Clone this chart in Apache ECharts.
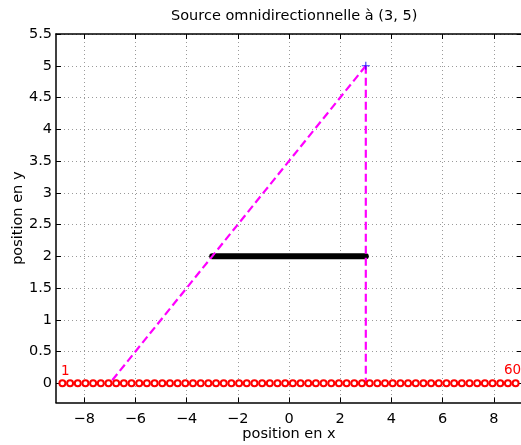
<!DOCTYPE html>
<html>
<head>
<meta charset="utf-8">
<script src="https://cdn.jsdelivr.net/npm/echarts@6/dist/echarts.min.js"></script>
<style>html,body{margin:0;padding:0;background:#fff;}#c{width:521px;height:445px;}</style>
</head>
<body>
<div id="c"></div>
<script>
var titleText = 'Source omnidirectionnelle à (3, 5)';
var xName = 'position en x';
var yName = 'position en y';
var xTicks = [-8, -6, -4, -2, 0, 2, 4, 6, 8];
var yTicks = [0, 0.5, 1, 1.5, 2, 2.5, 3, 3.5, 4, 4.5, 5, 5.5];
var xRange = [-9.1, 9.1];
var yRange = [-0.3, 5.5];
var sensorX = [-8.85,-8.55,-8.25,-7.95,-7.65,-7.35,-7.05,-6.75,-6.45,-6.15,
  -5.85,-5.55,-5.25,-4.95,-4.65,-4.35,-4.05,-3.75,-3.45,-3.15,
  -2.85,-2.55,-2.25,-1.95,-1.65,-1.35,-1.05,-0.75,-0.45,-0.15,
  0.15,0.45,0.75,1.05,1.35,1.65,1.95,2.25,2.55,2.85,
  3.15,3.45,3.75,4.05,4.35,4.65,4.95,5.25,5.55,5.85,
  6.15,6.45,6.75,7.05,7.35,7.65,7.95,8.25,8.55,8.85];
var sensorY = [0,0,0,0,0,0,0,0,0,0, 0,0,0,0,0,0,0,0,0,0, 0,0,0,0,0,0,0,0,0,0,
  0,0,0,0,0,0,0,0,0,0, 0,0,0,0,0,0,0,0,0,0, 0,0,0,0,0,0,0,0,0,0];
var sensorLabels = {0: '1', 59: '60'};
var obstacleX = [-3, 3];
var obstacleY = [2, 2];
var sourceX = [3];
var sourceY = [5];
var rayVertX = [3, 3];
var rayVertY = [5, 0];
var rayDiagX = [3, -7];
var rayDiagY = [5, 0];

var FONT = 'DejaVu Sans';
var FS = 14.5;
function zip(a, b) { return a.map(function (v, i) { return [v, b[i]]; }); }
function fmt(v) { return v < 0 ? '\u2212' + (-v) : String(v); }

var chart = echarts.init(document.getElementById('c'), null, {renderer: 'canvas'});
var gridSplit = {show: true, lineStyle: {color: '#9a9a9a', width: 1, type: [1, 3]}};
var axisLineBlack = {show: true, onZero: false, lineStyle: {color: '#000', width: 1.5}};

var sensorData = zip(sensorX, sensorY).map(function (p, i) {
  var d = {value: p};
  if (sensorLabels[i] !== undefined) {
    d.label = {show: true, formatter: sensorLabels[i], position: 'top',
      offset: i === 0 ? [3, 4] : [-3, 3],
      color: '#ff0000', fontSize: 13.5, fontFamily: FONT};
  }
  return d;
});

chart.setOption({
  animation: false,
  backgroundColor: '#fff',
  title: {text: titleText, left: 166, top: 4,
    textStyle: {fontFamily: FONT, fontSize: FS, fontWeight: 'normal', color: '#000'}},
  grid: {left: 56, right: -1, top: 34, bottom: 42.6, containLabel: false, outerBoundsMode: 'none'},
  xAxis: [{
    type: 'value', min: xRange[0], max: xRange[1], position: 'bottom',
    name: xName, nameLocation: 'middle', nameGap: 24, nameMoveOverlap: false,
    nameTextStyle: {fontFamily: FONT, fontSize: FS, color: '#000'},
    axisLine: axisLineBlack,
    axisTick: {show: true, inside: true, length: 5, customValues: xTicks, lineStyle: {color: '#000'}},
    axisLabel: {show: true, customValues: xTicks, formatter: fmt, margin: 9,
      fontFamily: FONT, fontSize: FS, color: '#000'},
    splitLine: gridSplit
  }, {
    type: 'value', min: xRange[0], max: xRange[1], position: 'top',
    axisLine: axisLineBlack,
    axisTick: {show: true, inside: true, length: 5, customValues: xTicks, lineStyle: {color: '#000'}},
    axisLabel: {show: false}, splitLine: {show: false}
  }],
  yAxis: [{
    type: 'value', min: yRange[0], max: yRange[1], position: 'left',
    name: yName, nameLocation: 'middle', nameGap: 30, nameMoveOverlap: false,
    nameTextStyle: {fontFamily: FONT, fontSize: FS, color: '#000'},
    axisLine: axisLineBlack,
    axisTick: {show: true, inside: true, length: 5, customValues: yTicks, lineStyle: {color: '#000'}},
    axisLabel: {show: true, customValues: yTicks, formatter: fmt, margin: 4,
      fontFamily: FONT, fontSize: FS, color: '#000'},
    splitLine: gridSplit
  }, {
    type: 'value', min: yRange[0], max: yRange[1], position: 'right',
    axisLine: axisLineBlack,
    axisTick: {show: true, inside: true, length: 5, customValues: yTicks, lineStyle: {color: '#000'}},
    axisLabel: {show: false}, splitLine: {show: false}
  }],
  series: [
    {type: 'line', data: zip(rayDiagX, rayDiagY), showSymbol: false, symbol: 'none',
      lineStyle: {color: '#ff00ff', width: 2.2, type: [8, 4]}, z: 3},
    {type: 'line', data: zip(rayVertX, rayVertY), showSymbol: false, symbol: 'none',
      lineStyle: {color: '#ff00ff', width: 2.2, type: [8, 4]}, z: 3},
    {type: 'line', data: zip(obstacleX, obstacleY), showSymbol: false, symbol: 'none',
      lineStyle: {color: '#000', width: 6, cap: 'round'}, z: 2},
    {type: 'scatter', data: sensorData, symbol: 'circle', symbolSize: 6,
      itemStyle: {color: '#fff', borderColor: '#ff0000', borderWidth: 2, opacity: 1}, z: 4},
    {type: 'scatter', data: zip(sourceX, sourceY),
      symbol: 'path://M-0.7,-5 H0.7 V-0.7 H5 V0.7 H0.7 V5 H-0.7 V0.7 H-5 V-0.7 H-0.7 Z',
      symbolSize: 8, itemStyle: {color: '#0000ff'}, z: 5}
  ]
});
</script>
</body>
</html>
